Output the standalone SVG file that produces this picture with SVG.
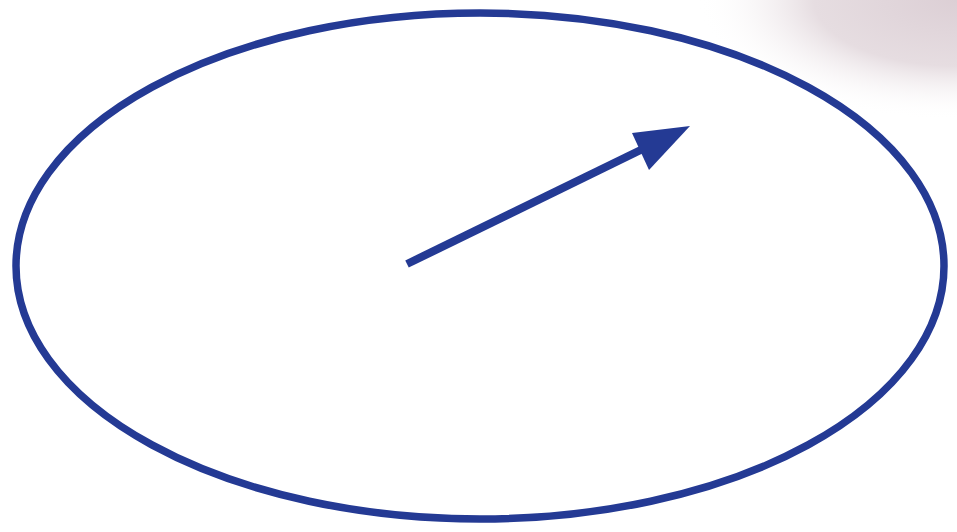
<svg xmlns="http://www.w3.org/2000/svg" width="957" height="532" viewBox="0 0 957 532">
<defs>
<radialGradient id="bg" cx="957" cy="0" r="200" gradientTransform="translate(957 0) scale(1.3 0.6) translate(-957 0)" gradientUnits="userSpaceOnUse">
<stop offset="0" stop-color="#dccfd5"/>
<stop offset="0.55" stop-color="#e6dde1"/>
<stop offset="1" stop-color="#ffffff" stop-opacity="0"/>
</radialGradient>
<style>
.blue{stroke:#243a94;fill:none}
</style>
</defs>
<rect width="957" height="532" fill="#ffffff"/>
<rect width="957" height="532" fill="url(#bg)"/>
<g id="ellipse">
<ellipse cx="480" cy="266" rx="464" ry="253" fill="#ffffff"/>
<ellipse class="blue" cx="480" cy="266" rx="464" ry="253" stroke-width="7.5"/>
</g>
<g id="connectors">
<line class="blue" x1="407" y1="264" x2="655" y2="143" stroke-width="8"/>
<polygon points="690,126 632,133 649,170" fill="#243a94"/>
</g>
</svg>
